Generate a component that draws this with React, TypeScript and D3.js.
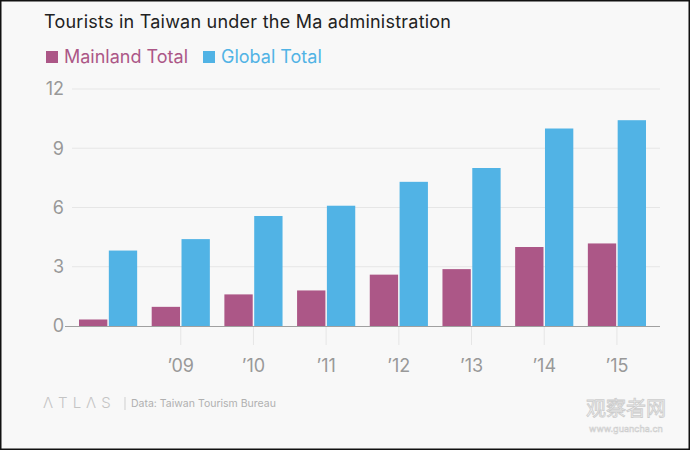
import React from "react";
import * as d3 from "d3";

const years = ["2008", "2009", "2010", "2011", "2012", "2013", "2014", "2015"];
const tickLabels = ["", "’09", "’10", "’11", "’12", "’13", "’14", "’15"];
const mainlandTotal = [0.33, 0.97, 1.6, 1.8, 2.6, 2.88, 4.0, 4.18];
const globalTotal = [3.82, 4.4, 5.57, 6.09, 7.3, 8.0, 10.0, 10.42];
const yTicks = [0, 3, 6, 9, 12];
const seriesNames = ["Mainland Total", "Global Total"];
const seriesColors = ["#ac5787", "#51b3e5"];

const W = 690;
const H = 450;
const FONT = "Inter, 'Noto Sans', sans-serif";

export default function App() {
  const y = d3.scaleLinear().domain([0, 12]).range([326, 89]);
  const x = d3.scaleBand<string>().domain(years).range([79, 646]).paddingInner(0.2).paddingOuter(0);
  const inner = d3.scaleBand<number>().domain([0, 1]).range([0, x.bandwidth()]).paddingInner(0.05);
  const series = [mainlandTotal, globalTotal];

  return (
    <svg width={W} height={H} style={{ position: "absolute", left: 0, top: 0, fontFamily: FONT }}>
      <rect x={0} y={0} width={W} height={H} fill="#f8f8f8" />
      <rect x={0.75} y={0.75} width={W - 1.5} height={H - 1.5} fill="none" stroke="#111" strokeWidth={1.5} />

      <text x={44} y={28} fontSize={18} fill="#222" textLength={407} lengthAdjust="spacing">Tourists in Taiwan under the Ma administration</text>

      {seriesNames.map((n, i) => {
        const lx = i === 0 ? 46 : 203;
        return (
          <g key={n}>
            <rect x={lx} y={51} width={12} height={12} fill={seriesColors[i]} />
            <text x={lx + 18} y={63} fontSize={18} fill={seriesColors[i]}>{n}</text>
          </g>
        );
      })}

      {yTicks.map((t) => (
        <g key={t}>
          {t !== 0 && <line x1={72} x2={660} y1={y(t)} y2={y(t)} stroke="#e6e6e6" strokeWidth={1} />}
          <text x={64} y={y(t)} dy="0.36em" textAnchor="end" fontSize={18} fill="#999">{t}</text>
        </g>
      ))}

      {years.map((yr, i) =>
        i === 0 ? null : (
          <g key={yr}>
            <line x1={x(yr)! + x.bandwidth() / 2} x2={x(yr)! + x.bandwidth() / 2} y1={326} y2={345} stroke="#e6e6e6" strokeWidth={1} />
            <text x={x(yr)! + x.bandwidth() / 2} y={372} textAnchor="middle" fontSize={18} fill="#999">{tickLabels[i]}</text>
          </g>
        )
      )}

      {years.map((yr, i) => (
        <g key={yr} transform={`translate(${x(yr)},0)`}>
          {series.map((s, k) => (
            <rect key={k} x={inner(k)} y={y(s[i])} width={inner.bandwidth()} height={y(0) - y(s[i])} fill={seriesColors[k]} />
          ))}
        </g>
      ))}

      <line x1={65} x2={660} y1={326.5} y2={326.5} stroke="#a0a0a0" strokeWidth={1} />

      <text x={43} y={408} fontSize={15} fill="#c4c4c4" letterSpacing={5} fontWeight={300}>ΛTLΛS</text>
      <line x1={125} x2={125} y1={397} y2={410} stroke="#cfcfcf" strokeWidth={1} />
      <text x={131} y={407} fontSize={10.5} fill="#b0b0b0">Data:  Taiwan Tourism Bureau</text>

      <g opacity={0.9}>
        <text x={626} y={416} textAnchor="middle" fontSize={20} fill="#f4f4f4" stroke="#c8c8c8" strokeWidth={0.8} fontFamily="'Noto Sans CJK SC', sans-serif">观察者网</text>
        <text x={626} y={432} textAnchor="middle" fontSize={9} fill="#f4f4f4" stroke="#c8c8c8" strokeWidth={0.5}>www.guancha.cn</text>
      </g>
    </svg>
  );
}
